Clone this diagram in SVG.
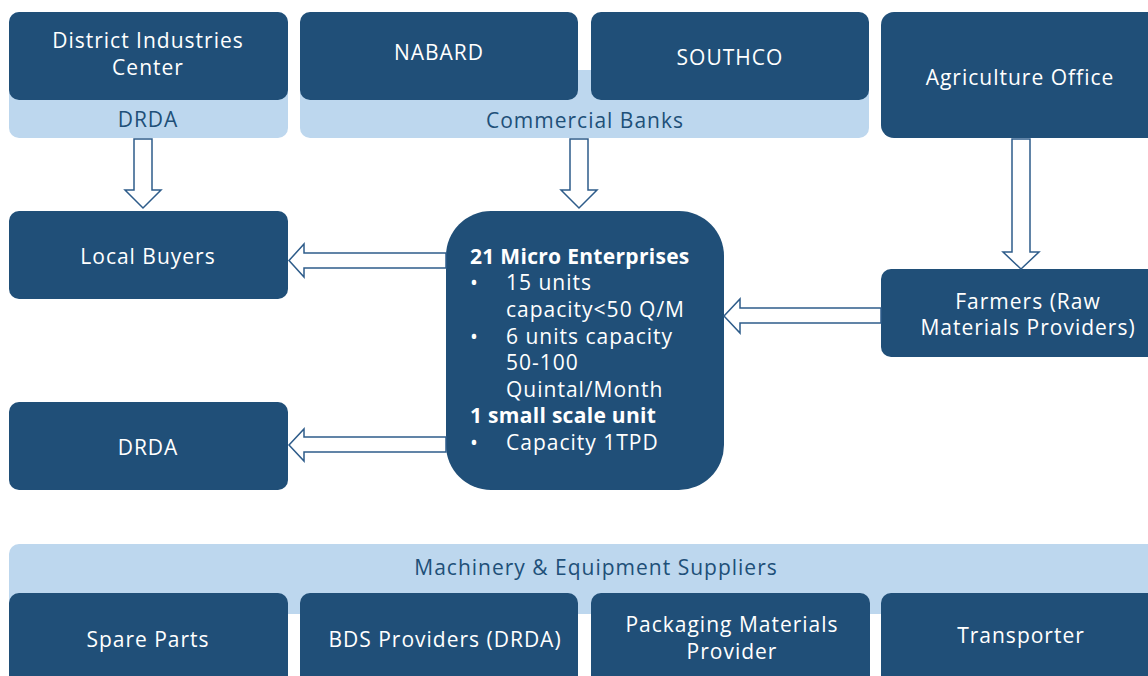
<svg xmlns="http://www.w3.org/2000/svg" width="1148" height="676" viewBox="0 0 1148 676">
<style>
.d{fill:#204F78}
.l{fill:#BDD7EE}
.t{font-family:"Open Sans","Liberation Sans",sans-serif;font-size:21px;fill:#FFFFFF;text-anchor:middle;letter-spacing:1px}
.tl{font-family:"Open Sans","Liberation Sans",sans-serif;font-size:21px;fill:#204F78;text-anchor:middle;letter-spacing:1px}
.m{font-family:"Open Sans","Liberation Sans",sans-serif;font-size:21px;fill:#FFFFFF;letter-spacing:1px}
.b{font-weight:bold;letter-spacing:0.3px}
.a{fill:#FFFFFF;stroke:#2E5C8A;stroke-width:1.5;stroke-linejoin:miter}
</style>
<rect width="1148" height="676" fill="#FFFFFF"/>
<g id="drda-group">
<rect class="l" x="9" y="12" width="279" height="126" rx="10"/>
<text class="tl" x="148" y="127">DRDA</text>
</g>
<g id="district-industries">
<rect class="d" x="9" y="12" width="279" height="88" rx="10"/>
<text class="t" x="148" y="48">District Industries</text>
<text class="t" x="148" y="75">Center</text>
</g>
<g id="commercial-banks">
<rect class="l" x="300" y="70" width="569" height="68" rx="10"/>
<text class="tl" x="585" y="128">Commercial Banks</text>
</g>
<g id="nabard">
<rect class="d" x="300" y="12" width="278" height="88" rx="10"/>
<text class="t" x="439" y="60">NABARD</text>
</g>
<g id="southco">
<rect class="d" x="591" y="12" width="278" height="88" rx="10"/>
<text class="t" x="730" y="65">SOUTHCO</text>
</g>
<g id="agriculture-office">
<rect class="d" x="881" y="12" width="287" height="126" rx="13"/>
<text class="t" x="1020" y="85">Agriculture Office</text>
</g>
<g id="local-buyers">
<rect class="d" x="9" y="211" width="279" height="88" rx="10"/>
<text class="t" x="148" y="264">Local Buyers</text>
</g>
<g id="drda">
<rect class="d" x="9" y="402" width="279" height="88" rx="10"/>
<text class="t" x="148" y="455">DRDA</text>
</g>
<g id="micro-enterprises">
<rect class="d" x="446" y="211" width="278" height="279" rx="45"/>
<text class="m b" x="470" y="264">21 Micro Enterprises</text>
<text class="m" x="470" y="290">•</text>
<text class="m" x="506" y="290">15 units</text>
<text class="m" x="506" y="317">capacity&lt;50 Q/M</text>
<text class="m" x="470" y="344">•</text>
<text class="m" x="506" y="344">6 units capacity</text>
<text class="m" x="506" y="370">50-100</text>
<text class="m" x="506" y="397">Quintal/Month</text>
<text class="m b" x="470" y="423">1 small scale unit</text>
<text class="m" x="470" y="450">•</text>
<text class="m" x="506" y="450">Capacity 1TPD</text>
</g>
<g id="farmers">
<rect class="d" x="881" y="269" width="287" height="88" rx="10"/>
<text class="t" x="1028" y="309">Farmers (Raw</text>
<text class="t" x="1028" y="335">Materials Providers)</text>
</g>
<g id="machinery-suppliers">
<rect class="l" x="9" y="544" width="1159" height="70" rx="10"/>
<text class="tl" x="596" y="575">Machinery &amp; Equipment Suppliers</text>
</g>
<g id="spare-parts">
<rect class="d" x="9" y="593" width="279" height="100" rx="10"/>
<text class="t" x="148" y="647">Spare Parts</text>
</g>
<g id="bds-providers">
<rect class="d" x="300" y="593" width="278" height="100" rx="10"/>
<text class="t" x="445" y="647">BDS Providers (DRDA)</text>
</g>
<g id="packaging">
<rect class="d" x="591" y="593" width="279" height="100" rx="10"/>
<text class="t" x="732" y="632">Packaging Materials</text>
<text class="t" x="732" y="659">Provider</text>
</g>
<g id="transporter">
<rect class="d" x="881" y="593" width="287" height="100" rx="10"/>
<text class="t" x="1021" y="643">Transporter</text>
</g>
<g id="connectors">
<polygon class="a" points="134,139 152,139 152,190 161,190 143,208 125,190 134,190"/>
<polygon class="a" points="570,139 588,139 588,190 597,190 579,208 561,190 570,190"/>
<polygon class="a" points="1012,139 1030,139 1030,252 1039,252 1021,269 1003,252 1012,252"/>
<polygon class="a" points="446,253 304,253 304,244 289,260.5 304,277 304,268 446,268"/>
<polygon class="a" points="446,437 304,437 304,429 289,445 304,461 304,452 446,452"/>
<polygon class="a" points="881,308 740,308 740,299 724,316 740,333 740,323 881,323"/>
</g>
</svg>
